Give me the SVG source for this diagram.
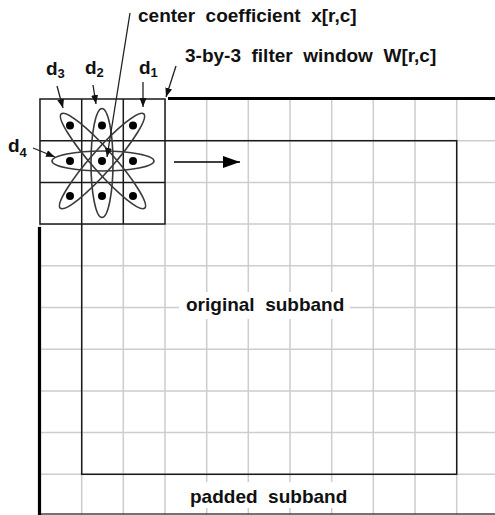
<svg xmlns="http://www.w3.org/2000/svg" width="495" height="515" viewBox="0 0 495 515">
<style>
.grid{stroke:#cdcdcd;stroke-width:1.5;fill:none}
.dark{stroke:#1a1a1a;stroke-width:1.5;fill:none}
.thick{stroke:#000;stroke-width:3.2;fill:none}
.ell{stroke:#3a3a3a;stroke-width:1.6;fill:none}
.dot{fill:#000}
.arr{stroke:#222;stroke-width:1.3;fill:none;marker-end:url(#ah)}
.t{font-family:"Liberation Sans",Arial,sans-serif;font-weight:bold;font-size:19px;fill:#111;white-space:pre}
.sub{font-size:13px}
</style>
<defs>
<marker id="ah" viewBox="0 0 9 7" refX="9" refY="3.5" markerWidth="9" markerHeight="7" markerUnits="userSpaceOnUse" orient="auto">
<path d="M0,0 L9,3.5 L0,7 Z" fill="#111"/>
</marker>
<marker id="bigah" viewBox="0 0 17 12" refX="17" refY="6" markerWidth="17" markerHeight="12" markerUnits="userSpaceOnUse" orient="auto">
<path d="M0,0 L17,6 L0,12 Z" fill="#000"/>
</marker>
</defs>
<rect width="495" height="515" fill="#fff"/>
<g id="padded-subband">
<path class="grid" d="M40,99V515M81.7,99V515M123.3,99V515M165,99V515M206.7,99V515M248.3,99V515M290,99V515M331.7,99V515M373.3,99V515M415,99V515M456.7,99V515M40,140.7H495M40,182.4H495M40,224H495M40,265.8H495M40,307.5H495M40,349.2H495M40,390.9H495M40,432.6H495M40,474.3H495"/>
<path d="M40,514H495" stroke="#444" stroke-width="1.5"/>
<path class="thick" d="M168,98.5H495M39.5,227V515"/>
<rect x="185" y="482" width="170" height="26" fill="#fff"/>
<text class="t" x="190" y="503">padded  subband</text>
</g>
<g id="original-subband">
<rect class="dark" x="81.7" y="140.7" width="375" height="333.6"/>
<rect x="179" y="292" width="171" height="27" fill="#fff"/>
<text class="t" x="186" y="311">original  subband</text>
</g>
<g id="filter-window">
<rect x="40" y="99" width="125" height="125" fill="#fff" stroke="#1a1a1a" stroke-width="1.5"/>
<path class="dark" d="M81.7,99V224M123.3,99V224M40,140.7H165M40,182.4H165"/>
<ellipse class="ell" cx="103" cy="161" rx="51" ry="10"/>
<ellipse class="ell" cx="102" cy="163" rx="11" ry="54.5"/>
<ellipse class="ell" cx="103" cy="161" rx="63" ry="11" transform="rotate(48.5 103 161)"/>
<ellipse class="ell" cx="102" cy="161" rx="63" ry="11" transform="rotate(-48.5 102 161)"/>
<circle class="dot" cx="70" cy="125.5" r="4"/>
<circle class="dot" cx="102" cy="125.5" r="4"/>
<circle class="dot" cx="133" cy="125.5" r="4"/>
<circle class="dot" cx="70" cy="161" r="4"/>
<circle class="dot" cx="102" cy="161" r="4"/>
<circle class="dot" cx="133" cy="161" r="4"/>
<circle class="dot" cx="70" cy="196" r="4"/>
<circle class="dot" cx="102" cy="196" r="4"/>
<circle class="dot" cx="133" cy="196" r="4"/>
</g>
<g id="labels">
<text class="t" x="138" y="22">center  coefficient  x[r,c]</text>
<text class="t" x="185" y="62">3-by-3  filter  window  W[r,c]</text>
<text class="t" x="46" y="75">d<tspan class="sub" dy="3">3</tspan></text>
<text class="t" x="85" y="74">d<tspan class="sub" dy="3">2</tspan></text>
<text class="t" x="139" y="74">d<tspan class="sub" dy="3">1</tspan></text>
<text class="t" x="8" y="152">d<tspan class="sub" dy="5">4</tspan></text>
</g>
<g id="connectors">
<path class="arr" d="M57,86L63,108"/>
<path class="arr" d="M93,85L96,104"/>
<path class="arr" d="M143,82V107"/>
<path class="arr" d="M176,66L166,97"/>
<path class="arr" d="M33,148L55,157"/>
<path class="arr" d="M130,13L107,157"/>
<path d="M174,162H240" stroke="#000" stroke-width="1.5" marker-end="url(#bigah)"/>
</g>
</svg>
